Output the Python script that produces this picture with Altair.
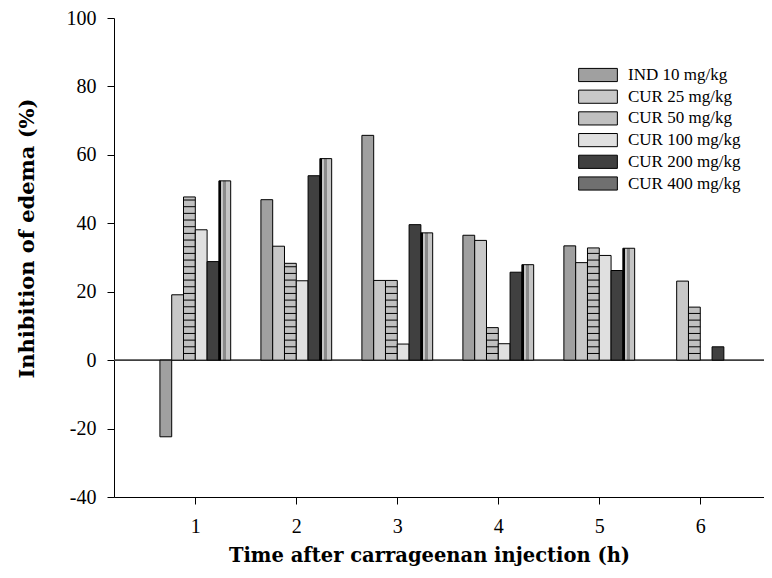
import altair as alt
import pandas as pd

# ---- data ----
times = [1, 2, 3, 4, 5, 6]
series = ["IND 10 mg/kg", "CUR 25 mg/kg", "CUR 50 mg/kg",
          "CUR 100 mg/kg", "CUR 200 mg/kg", "CUR 400 mg/kg"]
ind_10 = [-22.4, 46.9, 65.7, 36.5, 33.4, None]
cur_25 = [19.1, 33.3, 23.3, 35.0, 28.5, 23.1]
cur_50 = [47.7, 28.3, 23.3, 9.5, 32.8, 15.5]
cur_100 = [38.1, 23.2, 4.7, 4.8, 30.6, None]
cur_200 = [28.8, 53.9, 39.6, 25.7, 26.2, 3.9]
cur_400 = [52.4, 58.9, 37.2, 27.9, 32.7, None]
y_ticks = [-40, -20, 0, 20, 40, 60, 80, 100]

fills = ["#a0a0a0", "#c8c8c8", "#c0c0c0", "#e0e0e0", "#404040", "#707070"]

values = [ind_10, cur_25, cur_50, cur_100, cur_200, cur_400]
rows = []
for s, vals in zip(series, values):
    for t, v in zip(times, vals):
        if v is not None:
            rows.append({"time": t, "series": s, "value": v})
df = pd.DataFrame(rows)

BW = 0.1168        # bar width as a fraction of one hour
STEP = 1.95        # spacing of the horizontal stripes in the CUR 50 pattern

stripe_rows = []
for t, v in zip(times, cur_50):
    k = 1
    while k * STEP < v - 0.8:
        stripe_rows.append({"time": t, "value": k * STEP})
        k += 1
stripes = pd.DataFrame(stripe_rows)

order_expr = "indexof(" + str(series).replace("'", '"') + ", datum.series)"

xscale = alt.Scale(domain=[0.195, 6.631], nice=False, zero=False)
yscale = alt.Scale(domain=[-40, 100], nice=False, zero=False)

gradient_400 = {
    "gradient": "linear", "x1": 0, "x2": 1, "y1": 0, "y2": 0,
    "stops": [
        {"offset": 0.0, "color": "#000000"},
        {"offset": 0.22, "color": "#000000"},
        {"offset": 0.22, "color": "#c4c4c4"},
        {"offset": 0.32, "color": "#c4c4c4"},
        {"offset": 0.32, "color": "#8a8a8a"},
        {"offset": 0.62, "color": "#8a8a8a"},
        {"offset": 0.62, "color": "#c4c4c4"},
        {"offset": 1.0, "color": "#c4c4c4"},
    ],
}

x_axis = alt.Axis(
    values=times, format="d", title="Time after carrageenan injection (h)",
    grid=False, domainColor="black", tickColor="black", tickSize=7,
    labelFont="Liberation Serif", labelFontSize=20, labelColor="black",
    labelPadding=12, titleFont="DejaVu Serif", titleFontWeight="bold",
    titleFontSize=19.5, titleColor="black", titleX=315, titleY=58,
    titleBaseline="middle",
)
y_axis = alt.Axis(
    values=y_ticks, title="Inhibition of edema (%)", grid=False,
    labelExpr="datum.value + ''",
    domainColor="black", tickColor="black", tickSize=7,
    labelFont="Liberation Serif", labelFontSize=20, labelColor="black",
    labelPadding=11, titleFont="DejaVu Serif", titleFontWeight="bold",
    titleFontSize=21, titleColor="black", titleX=-87, titleY=220,
    titleBaseline="middle",
)

zero = alt.Chart(pd.DataFrame({"value": [0]})).mark_rule(
    color="#404040", strokeWidth=1.6
).encode(y=alt.Y("value:Q", scale=yscale, axis=y_axis))

bars = alt.Chart(df).transform_calculate(
    idx=order_expr
).transform_calculate(
    x0="datum.time + (datum.idx - 3) * %f" % BW,
    x1="datum.time + (datum.idx - 2) * %f" % BW,
    base="0",
).mark_bar(stroke="black", strokeWidth=1, opacity=1).encode(
    x=alt.X("x0:Q", scale=xscale, axis=x_axis),
    x2="x1:Q",
    y=alt.Y("value:Q", scale=yscale, axis=y_axis),
    y2="base:Q",
    fill=alt.condition(
        "datum.series === 'CUR 400 mg/kg'",
        alt.value(gradient_400),
        alt.Fill(
            "series:N",
            scale=alt.Scale(domain=series, range=fills),
            legend=alt.Legend(
                orient="none", legendX=464, legendY=47, title=None,
                symbolType="M-1,-0.34H1V0.34H-1Z", symbolSize=1500,
                symbolStrokeColor="black", symbolStrokeWidth=1,
                symbolOpacity=1, labelFont="Liberation Serif",
                labelFontSize=17, labelColor="black", labelOffset=10,
                clipHeight=20, rowPadding=1.7, padding=0,
            ),
        ),
    ),
)

stripe_layer = alt.Chart(stripes).transform_calculate(
    x0="datum.time - %f" % BW,
    x1="datum.time",
).mark_rule(color="black", strokeWidth=1).encode(
    x=alt.X("x0:Q", scale=xscale, axis=x_axis),
    x2="x1:Q",
    y=alt.Y("value:Q", scale=yscale, axis=y_axis),
)

chart = alt.layer(zero, bars, stripe_layer).properties(
    width=650, height=479,
    autosize=alt.AutoSizeParams(type="none"),
    padding={"left": 106, "top": 10, "right": 0, "bottom": 72},
    background="white",
).configure_view(stroke=None)

chart.save("out.html", embed_options={"renderer": "svg", "actions": False})
